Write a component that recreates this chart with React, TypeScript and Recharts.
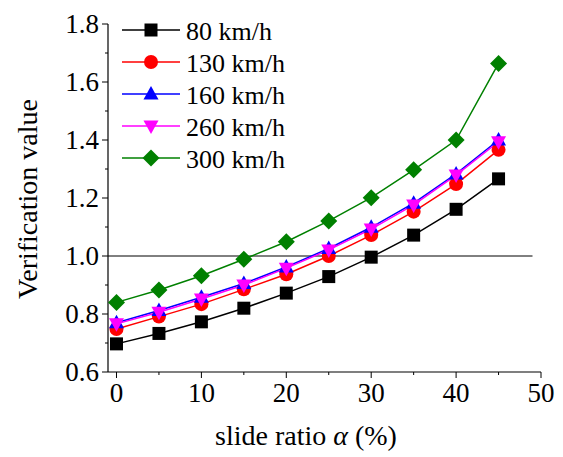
import React from "react";
import {
  LineChart,
  Line,
  XAxis,
  YAxis,
  ReferenceLine,
  Legend,
  Customized,
} from "recharts";

const FONT = "Liberation Serif, Times New Roman, serif";
const tickStyle = { fontFamily: FONT, fontSize: 27 };
const legendStyle = { fontFamily: FONT, fontSize: 26 };
const titleStyle = { fontFamily: FONT, fontSize: 28 };

const slideRatio = [0, 5, 10, 15, 20, 25, 30, 35, 40, 45];
const v80 = [0.697, 0.733, 0.773, 0.82, 0.872, 0.929, 0.996, 1.072, 1.161, 1.266];
const v130 = [0.748, 0.791, 0.834, 0.885, 0.937, 1.0, 1.072, 1.153, 1.248, 1.366];
const v160 = [0.77, 0.812, 0.858, 0.905, 0.962, 1.026, 1.099, 1.182, 1.283, 1.4];
const v260 = [0.766, 0.806, 0.852, 0.9, 0.958, 1.021, 1.093, 1.176, 1.279, 1.394];
const v300 = [0.84, 0.883, 0.932, 0.989, 1.049, 1.121, 1.201, 1.297, 1.4, 1.664];

const xTicks = [0, 5, 10, 15, 20, 25, 30, 35, 40, 45, 50];
const xLabels = [0, 10, 20, 30, 40, 50];
const yTicks = [0.6, 0.7, 0.8, 0.9, 1.0, 1.1, 1.2, 1.3, 1.4, 1.5, 1.6, 1.7, 1.8];
const yLabels = [0.6, 0.8, 1.0, 1.2, 1.4, 1.6, 1.8];

const data = slideRatio.map((x, i) => ({
  x,
  s80: v80[i],
  s130: v130[i],
  s160: v160[i],
  s260: v260[i],
  s300: v300[i],
}));

type Shape = "square" | "circle" | "triangle" | "triangleDown" | "diamond";

const series: { key: string; name: string; color: string; shape: Shape }[] = [
  { key: "s80", name: "80 km/h", color: "#000000", shape: "square" },
  { key: "s130", name: "130 km/h", color: "#ff0000", shape: "circle" },
  { key: "s160", name: "160 km/h", color: "#0000ff", shape: "triangle" },
  { key: "s260", name: "260 km/h", color: "#ff00ff", shape: "triangleDown" },
  { key: "s300", name: "300 km/h", color: "#008000", shape: "diamond" },
];

function Marker({ shape, cx, cy, color }: { shape: Shape; cx: number; cy: number; color: string }) {
  if (shape === "square") {
    return <rect x={cx - 6.5} y={cy - 6.5} width={13} height={13} fill={color} />;
  }
  if (shape === "circle") {
    return <circle cx={cx} cy={cy} r={7} fill={color} />;
  }
  if (shape === "triangle") {
    return (
      <polygon
        points={`${cx},${cy - 8} ${cx + 7.5},${cy + 5.5} ${cx - 7.5},${cy + 5.5}`}
        fill={color}
      />
    );
  }
  if (shape === "triangleDown") {
    return (
      <polygon
        points={`${cx},${cy + 8} ${cx + 7.5},${cy - 5.5} ${cx - 7.5},${cy - 5.5}`}
        fill={color}
      />
    );
  }
  return (
    <polygon
      points={`${cx},${cy - 8.5} ${cx + 8.5},${cy} ${cx},${cy + 8.5} ${cx - 8.5},${cy}`}
      fill={color}
    />
  );
}

const makeDot = (shape: Shape, color: string) => (props: any) => {
  const { cx, cy, index } = props;
  if (cx == null || cy == null) return <g key={index} />;
  return <Marker key={index} shape={shape} cx={cx} cy={cy} color={color} />;
};

const YTick = (props: any) => {
  const { x, y, payload } = props;
  const v = payload.value as number;
  const major = yLabels.some((l) => Math.abs(l - v) < 1e-6);
  return (
    <g>
      <line x1={x} x2={x - (major ? 6 : 3)} y1={y} y2={y} stroke="#000" strokeWidth={1} />
      {major && (
        <text x={x - 9} y={y + 9} textAnchor="end" style={tickStyle} fill="#000">
          {v.toFixed(1)}
        </text>
      )}
    </g>
  );
};

const XTick = (props: any) => {
  const { x, y, payload } = props;
  const v = payload.value as number;
  const major = xLabels.includes(v);
  return (
    <g>
      <line x1={x} x2={x} y1={y} y2={y + (major ? 6 : 3)} stroke="#000" strokeWidth={1} />
      {major && (
        <text x={x} y={y + 30} textAnchor="middle" style={tickStyle} fill="#000">
          {v}
        </text>
      )}
    </g>
  );
};

const renderLegend = () => (
  <svg width={220} height={165}>
    {series.map((s, i) => {
      const cy = 16 + i * 32;
      return (
        <g key={s.key}>
          <line x1={4} x2={62} y1={cy} y2={cy} stroke={s.color} strokeWidth={1.5} />
          <Marker shape={s.shape} cx={33} cy={cy} color={s.color} />
          <text x={68} y={cy + 9.5} style={legendStyle} fill="#000">
            {s.name}
          </text>
        </g>
      );
    })}
  </svg>
);

const AxisTitles = () => (
  <g fill="#000">
    <text x={306} y={445} textAnchor="middle" style={titleStyle}>
      slide ratio <tspan fontStyle="italic">α</tspan> (%)
    </text>
    <text
      x={37}
      y={199}
      textAnchor="middle"
      transform="rotate(-90 37 199)"
      style={titleStyle}
    >
      Verification value
    </text>
  </g>
);

export default function App() {
  return (
    <div style={{ position: "absolute", left: 0, top: 0, background: "#fff", fontFamily: FONT }}>
      <LineChart
        width={563}
        height={457}
        data={data}
        margin={{ top: 24, right: 22, left: 48, bottom: 45 }}
      >
        <XAxis
          dataKey="x"
          type="number"
          domain={[-1, 50]}
          ticks={xTicks}
          interval={0}
          height={40}
          tickSize={0}
          tickMargin={0}
          tickLine={false}
          tick={<XTick />}
          axisLine={{ stroke: "#000", strokeWidth: 1.2 }}
        />
        <YAxis
          type="number"
          domain={[0.6, 1.8]}
          ticks={yTicks}
          interval={0}
          width={60}
          tickSize={0}
          tickMargin={0}
          tickLine={false}
          tick={<YTick />}
          axisLine={{ stroke: "#000", strokeWidth: 1.2 }}
        />
        <ReferenceLine
          segment={[
            { x: -1, y: 1 },
            { x: 49, y: 1 },
          ]}
          stroke="#000"
          strokeWidth={1}
        />
        {series.map((s) => (
          <Line
            key={s.key}
            dataKey={s.key}
            name={s.name}
            type="linear"
            stroke={s.color}
            strokeWidth={1.5}
            dot={makeDot(s.shape, s.color)}
            activeDot={false}
            isAnimationActive={false}
          />
        ))}
        <Legend
          layout="vertical"
          align="center"
          verticalAlign="middle"
          content={renderLegend}
          wrapperStyle={{ position: "absolute", top: 14, left: 118, width: 220, height: 165 }}
        />
        <Customized component={<AxisTitles />} />
      </LineChart>
    </div>
  );
}
